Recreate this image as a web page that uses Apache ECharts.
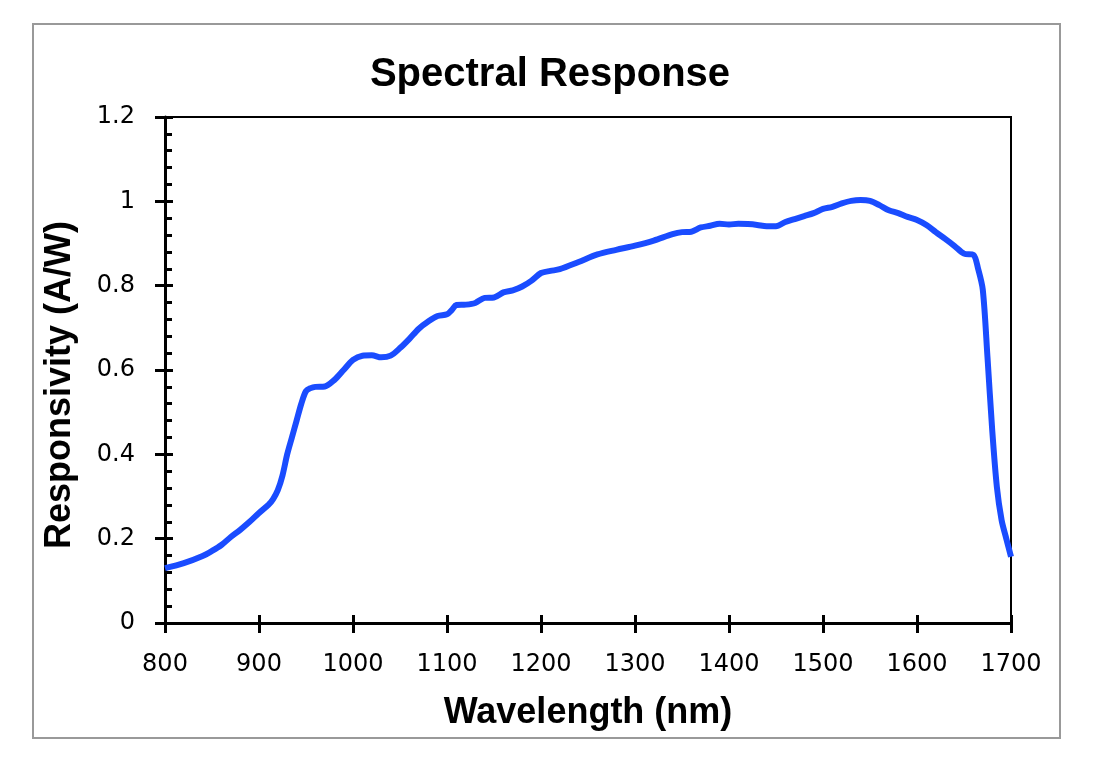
<!DOCTYPE html>
<html><head><meta charset="utf-8">
<script src="https://cdn.jsdelivr.net/npm/echarts@6/dist/echarts.min.js"></script>
<style>html,body{margin:0;padding:0;background:#fff}#c{width:1100px;height:773px}</style>
</head><body><div id="c"></div>
<script>
const wavelengths = [800,820,840,850,860,870,880,890,900,910,915,920,925,930,935,940,945,950,955,960,970,980,990,1000,1010,1020,1030,1040,1050,1060,1070,1080,1090,1100,1105,1110,1120,1130,1140,1150,1160,1170,1180,1190,1200,1210,1220,1240,1260,1280,1300,1320,1340,1350,1360,1370,1380,1390,1400,1410,1420,1430,1440,1450,1460,1470,1480,1490,1500,1510,1520,1530,1540,1550,1560,1570,1580,1590,1600,1610,1620,1630,1640,1650,1660,1665,1670,1675,1680,1685,1690,1695,1700];
const responsivity = [0.130,0.142,0.159,0.171,0.185,0.204,0.221,0.240,0.261,0.280,0.294,0.315,0.350,0.400,0.440,0.480,0.520,0.550,0.557,0.560,0.561,0.576,0.600,0.624,0.634,0.635,0.630,0.634,0.652,0.674,0.698,0.715,0.728,0.732,0.742,0.754,0.755,0.759,0.771,0.772,0.784,0.789,0.798,0.812,0.830,0.835,0.839,0.856,0.874,0.885,0.895,0.907,0.922,0.927,0.928,0.938,0.942,0.947,0.945,0.947,0.946,0.944,0.941,0.941,0.951,0.958,0.965,0.972,0.982,0.987,0.995,1.001,1.003,1.001,0.991,0.979,0.972,0.963,0.956,0.944,0.927,0.911,0.894,0.876,0.873,0.840,0.790,0.630,0.458,0.322,0.244,0.200,0.157];
const xTicks = {min:800, max:1700, interval:100};
const yTicks = {min:0, max:1.2, interval:0.2};

const points = wavelengths.map((w,i)=>[w, responsivity[i]]);
const labelFont = {fontFamily:'DejaVu Sans', fontSize:24, color:'#000'};
const chart = echarts.init(document.getElementById('c'), null, {renderer:'canvas'});
chart.setOption({
  animation:false,
  backgroundColor:'#fff',
  title:{text:'Spectral Response', left:'center', top:50,
    textStyle:{fontFamily:'Liberation Sans', fontWeight:'bold', fontSize:40, color:'#000'}},
  graphic:[{type:'rect', shape:{x:33,y:24,width:1027,height:714}, style:{fill:'none', stroke:'#999', lineWidth:2}, silent:true}],
  grid:{left:165, right:89, top:117, bottom:150, show:true, borderColor:'#000', borderWidth:2, backgroundColor:'transparent'},
  xAxis:[{type:'value', min:xTicks.min, max:xTicks.max, interval:xTicks.interval,
    name:'Wavelength (nm)', nameLocation:'middle', nameGap:72,
    nameTextStyle:{fontFamily:'Liberation Sans', fontWeight:'bold', fontSize:36, color:'#000'},
    axisLine:{show:true, onZero:false, lineStyle:{color:'#000', width:3}},
    axisTick:{show:true, inside:false, length:10, lineStyle:{color:'#000', width:3}},
    axisLabel:Object.assign({margin:30, formatter:v=>String(v)}, labelFont),
    splitLine:{show:false}},
   {type:'value', position:'bottom', min:xTicks.min, max:xTicks.max, interval:xTicks.interval,
    axisLine:{show:false}, axisTick:{show:true, inside:true, length:8, lineStyle:{color:'#000', width:3}},
    axisLabel:{show:false}, splitLine:{show:false}}],
  yAxis:[{type:'value', min:yTicks.min, max:yTicks.max, interval:yTicks.interval,
    name:'Responsivity (A/W)', nameLocation:'middle', nameGap:87, nameRotate:90,
    nameTextStyle:{fontFamily:'Liberation Sans', fontWeight:'bold', fontSize:36, color:'#000', padding:[0,0,0,-30]},
    axisLine:{show:true, onZero:false, lineStyle:{color:'#000', width:3}},
    axisTick:{show:true, inside:false, length:10, lineStyle:{color:'#000', width:3}},
    minorTick:{show:false},
    axisLabel:Object.assign({margin:30}, labelFont),
    splitLine:{show:false}},
   {type:'value', position:'left', min:yTicks.min, max:yTicks.max, interval:yTicks.interval,
    axisLine:{show:false}, axisTick:{show:true, inside:true, length:8, lineStyle:{color:'#000', width:3}},
    minorTick:{show:true, splitNumber:5, length:7, lineStyle:{color:'#000', width:3}},
    axisLabel:{show:false}, splitLine:{show:false}, minorSplitLine:{show:false}}],
  series:[{type:'line', data:points, xAxisIndex:0, yAxisIndex:0, showSymbol:false, smooth:0.3,
    lineStyle:{color:'#1a4cff', width:6}, z:5}]
});
</script></body></html>
